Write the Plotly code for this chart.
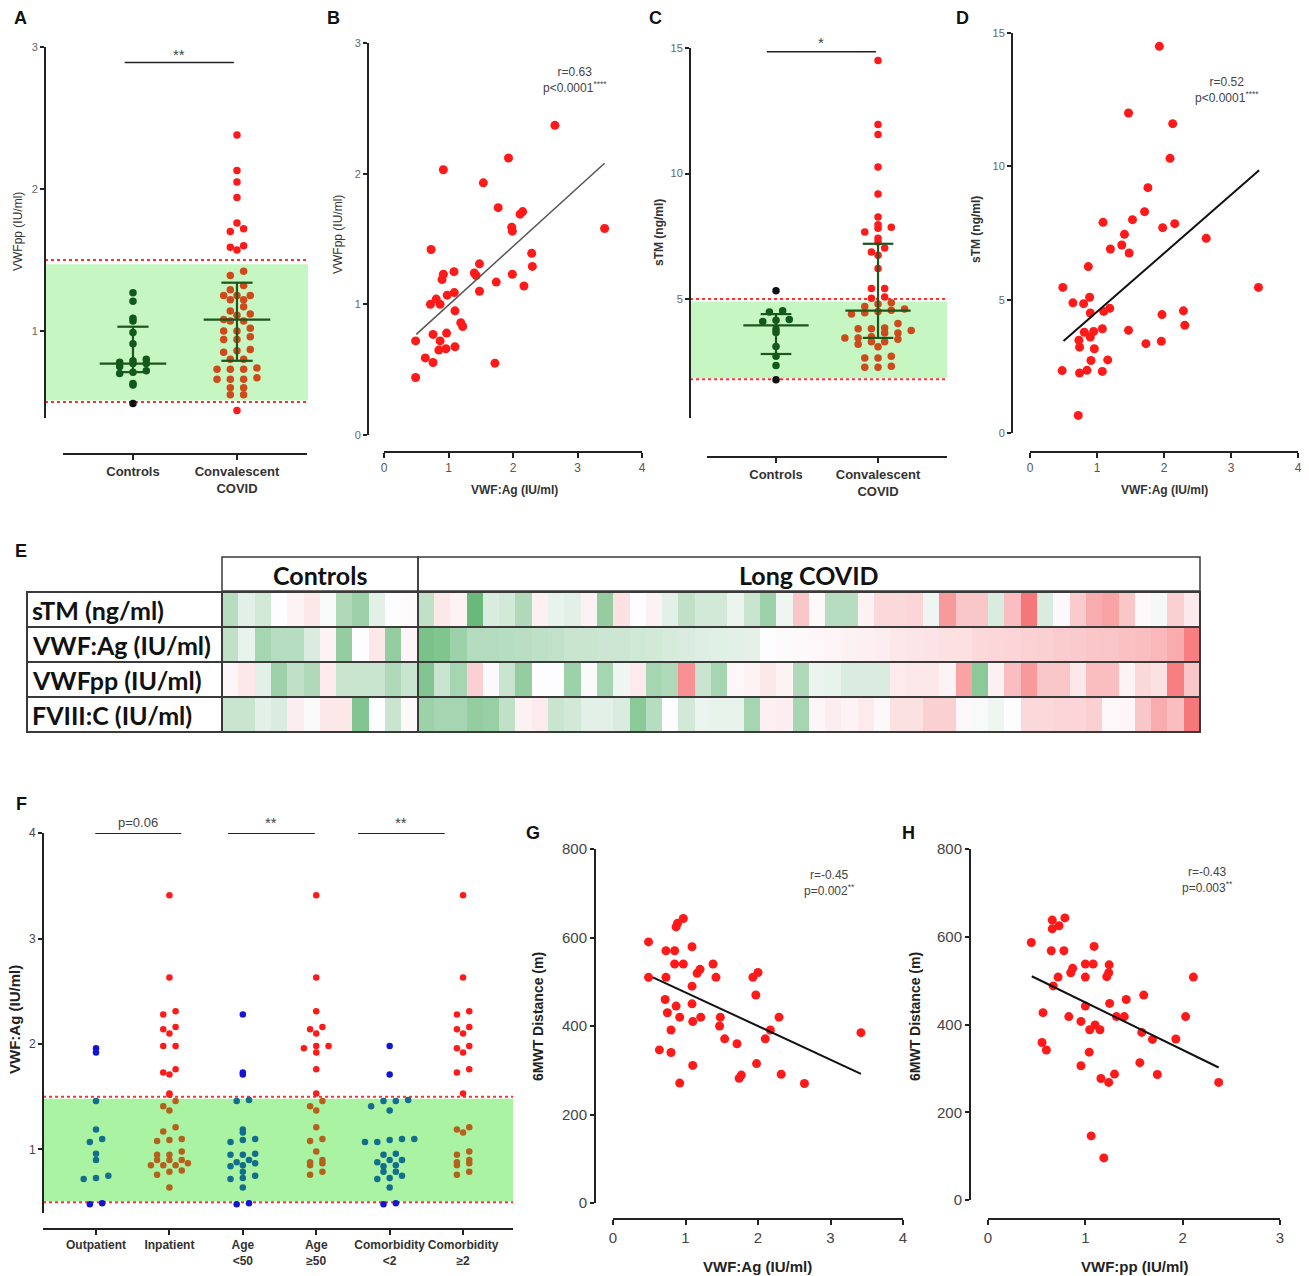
import numpy as np
import plotly.graph_objects as go

W, H = 1309, 1276
def fx(px): return px / W
def fy(py): return 1 - py / H

# ---------------- DATA ----------------
# Panel A: VWFpp (IU/ml)
A_controls = [1.27, 1.21, 1.07, 1.09, 0.99, 0.91, 0.79, 0.77, 0.80, 0.78, 0.77, 0.75, 0.71, 0.72, 0.70, 0.62, 0.63, 0.49]
A_conv = [2.38, 2.13, 2.05, 1.94, 1.76, 1.70, 1.72, 1.57, 1.60, 1.59,
          1.42, 1.39, 1.32, 1.29, 1.25, 1.25, 1.25, 1.22, 1.22, 1.17, 1.14, 1.12, 1.11, 1.08, 1.07, 1.07,
          1.02, 1.00, 1.00, 0.96, 0.94, 0.94, 0.87, 0.86, 0.85, 0.80, 0.80, 0.74, 0.73, 0.73, 0.73,
          0.67, 0.66, 0.66, 0.66, 0.60, 0.60, 0.55, 0.55, 0.44]
A_ctrl_stats = [0.71, 0.77, 1.03]   # Q1, median, Q3
A_conv_stats = [0.79, 1.08, 1.34]
A_normal = [0.5, 1.5]
A_categories = ["Controls", "Convalescent<br>COVID"]

# Panel B: VWF:Ag vs VWFpp
B_x = [0.49, 0.49, 0.64, 0.76, 0.76, 0.87, 0.85, 0.96, 0.97, 1.10, 0.73, 0.92, 0.92, 0.90, 1.085, 0.72, 0.81,
       0.87, 0.98, 1.09, 1.10, 1.19, 1.22, 1.40, 1.48, 1.43, 1.48, 1.54, 1.77, 1.74, 1.72, 1.93, 1.98, 1.99,
       1.99, 2.11, 2.15, 2.17, 2.29, 2.30, 2.65, 3.42]
B_y = [0.44, 0.72, 0.59, 0.555, 0.77, 0.72, 0.65, 0.66, 0.78, 0.675, 1.42, 2.03, 1.23, 1.19, 1.25, 1.00, 1.04,
       1.00, 1.07, 1.09, 0.95, 0.86, 0.83, 1.24, 1.31, 1.22, 1.10, 1.93, 1.74, 1.17, 0.55, 2.12, 1.59, 1.56,
       1.23, 1.69, 1.71, 1.14, 1.39, 1.29, 2.37, 1.58]
B_fit_x = [0.5, 3.42]
B_fit_y = [0.77, 2.08]

# Panel C: sTM (ng/ml)
C_controls = [5.33, 4.48, 4.53, 4.18, 4.10, 4.15, 3.67, 3.80, 3.11, 2.72, 2.35, 1.78]
C_conv = [14.5, 11.95, 11.55, 10.26, 9.18, 8.27, 7.82, 7.86, 7.96, 7.67, 7.42, 7.27, 6.74, 7.03, 6.87, 6.22,
          5.42, 5.42, 5.03, 5.08,
          4.85, 4.80, 4.70, 4.60, 4.55, 4.50, 4.45, 4.40, 4.02, 3.85, 3.82, 3.82, 3.75, 3.65, 3.65, 3.50,
          3.45, 3.45, 3.40, 3.30, 3.30, 3.20, 3.10, 2.72, 2.65, 2.65, 2.32, 2.28, 2.28]
C_ctrl_stats = [2.81, 3.95, 4.40]
C_conv_stats = [3.45, 4.54, 7.20]
C_normal = [1.8, 5.0]

# Panel D: VWF:Ag vs sTM
D_x = [1.93, 1.47, 2.13, 2.09, 1.76, 1.71, 1.53, 1.09, 1.98, 2.16, 2.63, 1.41, 1.37, 1.20, 1.48, 0.87, 0.49,
       3.41, 0.64, 0.80, 0.89, 0.90, 1.10, 1.19, 1.97, 2.29, 2.31, 1.47, 0.81, 0.90, 0.95, 1.08, 0.73, 0.74,
       0.96, 1.73, 1.96, 0.91, 1.16, 0.48, 0.74, 0.85, 1.08, 0.72]
D_y = [14.5, 12.0, 11.6, 10.3, 9.2, 8.3, 8.0, 7.9, 7.7, 7.85, 7.3, 7.45, 7.05, 6.9, 6.75, 6.24, 5.46,
       5.46, 4.88, 4.85, 5.09, 4.5, 4.56, 4.68, 4.44, 4.58, 4.04, 3.85, 3.78, 3.6, 3.81, 3.91, 3.48, 3.22,
       3.16, 3.35, 3.44, 2.72, 2.74, 2.34, 2.25, 2.35, 2.31, 0.66]
D_fit_x = [0.5, 3.42]
D_fit_y = [3.45, 9.85]

# Panel E: heatmap (diverging scores, -1 green .. +1 red)
E_rows = ["sTM (ng/ml)", "VWF:Ag (IU/ml)", "VWFpp (IU/ml)", "FVIII:C (IU/ml)"]
E_groups = ["Controls", "Long COVID"]
E_n_controls = 12
E_sTM = [-0.4, -0.15, -0.25, 0, 0.05, 0.12, -0.03, -0.45, -0.55, -0.15, 0, 0.01,
         -0.35, 0.12, 0.05, -0.85, -0.2, -0.25, -0.45, 0.07,
         -0.12, -0.15, 0.06, -0.6, 0.15, 0, 0.06, -0.15, -0.35, -0.25, -0.25, -0.1, -0.3, -0.55, -0.08, 0.3, 0.02, -0.4, -0.4, 0.06,
         0.2, 0.2, 0.22, -0.08, 0.55, 0.3, 0.3, -0.2, 0.35, 0.75, -0.2, 0.02, 0.28, 0.45, 0.5, 0.3, 0.02, -0.05, 0.25, 0.1]
E_VWFAg = [-0.35, -0.12, -0.5, -0.4, -0.4, -0.2, 0.05, -0.6, 0, 0.12, -0.6, 0.04,
           -0.75, -0.72, -0.55, -0.42, -0.42, -0.4, -0.38, -0.36,
           -0.34, -0.3, -0.3, -0.28, -0.28, -0.26, -0.25, -0.22, -0.2, -0.18, -0.16, -0.15, -0.14, 0.0, 0.01, 0.02, 0.03, 0.04, 0.06, 0.07,
           0.08, 0.12, 0.13, 0.14, 0.15, 0.16, 0.2, 0.21, 0.22, 0.24, 0.25, 0.27, 0.28, 0.3, 0.31, 0.33, 0.35, 0.38, 0.45, 0.7]
E_VWFpp = [0.04, 0.12, -0.15, -0.55, -0.35, -0.45, 0.1, -0.3, -0.3, -0.3, -0.45, -0.3,
           -0.7, -0.3, -0.5, 0.25, -0.02, -0.3, -0.6, 0.0,
           0.0, -0.55, -0.02, -0.5, -0.08, 0.1, -0.5, -0.45, 0.6, -0.3, -0.5, 0.03, 0.05, 0.12, 0.05, -0.45, -0.1, -0.12, -0.2, -0.2,
           -0.2, 0.1, 0.12, 0.12, 0.05, 0.5, -0.65, 0.07, 0.35, 0.55, 0.3, 0.3, 0.12, 0.35, 0.35, 0.05, 0.2, 0.15, 0.7, 0.3]
E_FVIII = [-0.3, -0.3, -0.15, -0.2, 0.08, -0.02, 0.12, 0.12, -0.7, 0, -0.3, 0.02,
           -0.55, -0.5, -0.5, -0.6, -0.58, -0.35, 0.06, 0.1,
           -0.3, -0.25, -0.15, -0.15, -0.2, -0.65, -0.4, 0, -0.25, -0.1, -0.12, -0.12, -0.5, 0.07, 0.08, -0.5, 0.04, 0.08, 0.05, 0.1,
           0.02, 0.15, 0.15, 0.25, 0.25, 0.02, -0.03, -0.08, 0.0, 0.2, 0.2, 0.22, 0.22, 0.25, 0.03, 0.04, 0.3, 0.45, 0.35, 0.75]

# Panel F: VWF:Ag by subgroup
F_categories = ["Outpatient", "Inpatient", "Age<br>&lt;50", "Age<br>≥50", "Comorbidity<br>&lt;2", "Comorbidity<br>≥2"]
F_out = [1.92, 1.96, 0.48, 0.49, 1.46, 1.19, 1.07, 1.10, 0.96, 0.90, 0.75, 0.72, 0.73]
F_inp = [3.41, 2.63, 2.28, 2.31, 2.16, 2.14, 2.10, 1.98, 1.98, 1.76, 1.71, 1.73, 1.53, 1.52,
         1.46, 1.37, 1.41, 1.17, 1.21, 1.08, 1.10, 1.09, 0.95, 0.95, 0.98, 0.87, 0.90, 0.90, 0.90,
         0.85, 0.85, 0.85, 0.80, 0.79, 0.76, 0.64]
F_age_lt = [2.28, 1.71, 1.73, 0.48, 0.49, 1.46, 1.47, 1.16, 1.19, 1.07, 1.10, 1.09, 0.95, 0.96, 0.95,
            0.88, 0.90, 0.87, 0.84, 0.85, 0.79, 0.72, 0.75, 0.73, 0.64]
F_age_ge = [3.41, 2.63, 2.31, 2.16, 2.14, 2.10, 1.92, 1.98, 1.96, 1.98, 1.76, 1.53, 1.46, 1.37, 1.41,
            1.21, 1.08, 1.10, 0.98, 0.90, 0.85, 0.87, 0.88, 0.76, 0.79]
F_com_lt = [1.98, 1.71, 0.48, 0.49, 1.46, 1.46, 1.47, 1.37, 1.41, 1.07, 1.10, 1.09, 1.10, 1.07, 0.95,
            0.96, 0.88, 0.90, 0.90, 0.84, 0.85, 0.79, 0.79, 0.72, 0.75, 0.73, 0.64]
F_com_ge = [3.41, 2.63, 2.28, 2.31, 2.16, 2.14, 2.10, 1.92, 1.98, 1.96, 1.73, 1.76, 1.53, 1.16, 1.21,
            1.19, 0.98, 0.95, 0.90, 0.85, 0.87, 0.88, 0.76, 0.79]
F_normal = [0.5, 1.5]
F_sig = ["p=0.06", "**", "**"]
F_sig_span = [(-0.01, 1.16), (1.80, 2.98), (3.57, 4.75)]

# Panel G: VWF:Ag vs 6MWT distance
G_x = [0.49, 0.49, 0.64, 0.73, 0.73, 0.72, 0.75, 0.80, 0.80, 0.85, 0.85, 0.87, 0.92, 0.87, 0.89, 0.97, 0.97,
       0.92, 1.09, 1.09, 1.09, 1.10, 1.10, 1.16, 1.20, 1.21, 1.38, 1.42, 1.48, 1.47, 1.54, 1.71, 1.74, 1.77,
       1.93, 2.00, 1.97, 1.98, 2.10, 2.17, 2.29, 2.32, 2.64, 3.42]
G_y = [590, 510, 346, 570, 510, 460, 430, 391, 340, 570, 540, 445, 420, 624, 632, 540, 643,
       271, 579, 490, 450, 410, 311, 519, 528, 420, 540, 510, 420, 400, 371, 360, 282, 289,
       510, 521, 470, 315, 371, 391, 420, 291, 270, 385]
G_fit_x = [0.55, 3.42]
G_fit_y = [510, 292]

# Panel H: VWF:pp vs 6MWT distance
H_x = [0.445, 0.565, 0.555, 0.60, 0.66, 0.66, 0.73, 0.79, 0.65, 0.78, 0.72, 0.67, 0.85, 0.87, 0.83, 1.00,
       1.08, 1.09, 1.00, 1.00, 0.955, 0.955, 1.04, 1.045, 1.10, 1.15, 1.06, 1.19, 1.16, 1.24, 1.30, 1.22,
       1.245, 1.24, 1.25, 1.32, 1.40, 1.42, 1.60, 1.58, 1.56, 1.69, 1.74, 1.93, 2.03, 2.11, 2.37]
H_y = [587, 427, 359, 342, 638, 618, 625, 643, 568, 568, 508, 488, 518, 528, 418, 538,
       538, 578, 508, 442, 407, 306, 337, 388, 399, 388, 146, 96, 277, 268, 287, 509,
       536, 518, 448, 418, 418, 457, 467, 382, 313, 366, 286, 367, 418, 508, 268]
H_fit_x = [0.45, 2.37]
H_fit_y = [510, 302]

# ---------------- STYLE ----------------
FONT = "Liberation Sans"
RED = "#ff1a1a"
ORANGE = "#cf4a1b"
DKGREEN = "#0e5a1b"
BLACK = "#111111"
BROWN = "#b5611c"
TEAL = "#126e8c"
BLUE = "#1414d6"
GREEN_BG = "#c6f6c1"
GREEN_BG_F = "#a9f3a3"
STAT = "#1c561c"


def swarm(vals, center, h, step):
    vals = np.asarray(vals, dtype=float)
    order = np.argsort(vals, kind="stable")
    bins = np.round(vals / h).astype(int)
    xs = np.zeros(len(vals))
    for b in np.unique(bins):
        idx = [i for i in order if bins[i] == b]
        n = len(idx)
        for k, i in enumerate(idx):
            xs[i] = center + (k - (n - 1) / 2) * step
    return xs


def classify(vals, lo, hi, inside, outside):
    return [inside if lo <= v <= hi else outside for v in vals]


fig = go.Figure()
shapes = []
annotations = []


def stat_trace(c, stats, xa, ya, wm=0.32, wq=0.15):
    q1, med, q3 = stats
    xs = [c - wm, c + wm, None, c - wq, c + wq, None, c - wq, c + wq, None, c, c]
    ys = [med, med, None, q1, q1, None, q3, q3, None, q1, q3]
    return go.Scatter(x=xs, y=ys, xaxis=xa, yaxis=ya, mode="lines",
                      line=dict(color=STAT, width=2.2), hoverinfo="skip")


def dots(x, y, colors, size, xa, ya):
    return go.Scatter(x=x, y=y, xaxis=xa, yaxis=ya, mode="markers",
                      marker=dict(color=colors, size=size, line=dict(width=0)), hoverinfo="skip")


def band(xref, yref, lo, hi, gfill, glo, ghi):
    shapes.append(dict(type="rect", xref=xref + " domain", yref=yref, x0=0, x1=1, y0=glo, y1=ghi,
                       fillcolor=gfill, line=dict(width=0), layer="below"))
    for v in (lo, hi):
        shapes.append(dict(type="line", xref=xref + " domain", yref=yref, x0=0, x1=1, y0=v, y1=v,
                           line=dict(color="#ff3030", width=2, dash="dot"), layer="below"))


def ptext(px, py, text, size=12, color="#333", angle=0, xanchor="center", bold=False, family=None):
    annotations.append(dict(xref="paper", yref="paper", x=fx(px), y=fy(py),
                            text=("<b>%s</b>" % text) if bold else text, textangle=angle,
                            xanchor=xanchor, yanchor="middle", showarrow=False,
                            font=dict(family=family or FONT, size=size, color=color)))


# ---- Panel A ----
xa, ya = "x", "y"
band("x", "y", A_normal[0], A_normal[1], GREEN_BG, 0.51, 1.47)
fig.add_trace(dots(swarm(A_controls, 0, 0.05, 0.128), A_controls,
                   classify(A_controls, *A_normal, DKGREEN, BLACK), 7.5, xa, ya))
fig.add_trace(dots(swarm(A_conv, 1, 0.05, 0.128), A_conv,
                   classify(A_conv, *A_normal, ORANGE, RED), 7.5, xa, ya))
fig.add_trace(stat_trace(0, A_ctrl_stats, xa, ya))
fig.add_trace(stat_trace(1, A_conv_stats, xa, ya))
shapes.append(dict(type="line", xref="x", yref="y", x0=-0.08, x1=0.97, y0=2.89, y1=2.89,
                   line=dict(color="#222", width=1.5)))
ptext(179, 54, "**", size=15, color="#444")

# ---- Panel B ----
fig.add_trace(dots(B_x, B_y, RED, 9, "x2", "y2"))
fig.add_trace(go.Scatter(x=B_fit_x, y=B_fit_y, xaxis="x2", yaxis="y2", mode="lines",
                         line=dict(color="#555", width=1.5), hoverinfo="skip"))

# ---- Panel C ----
band("x3", "y3", C_normal[0], C_normal[1], GREEN_BG, 1.85, 4.9)
fig.add_trace(dots(swarm(C_controls, 0, 0.3, 0.13), C_controls,
                   classify(C_controls, *C_normal, DKGREEN, BLACK), 7.5, "x3", "y3"))
fig.add_trace(dots(swarm(C_conv, 1, 0.3, 0.13), C_conv,
                   classify(C_conv, *C_normal, ORANGE, RED), 7.5, "x3", "y3"))
fig.add_trace(stat_trace(0, C_ctrl_stats, "x3", "y3"))
fig.add_trace(stat_trace(1, C_conv_stats, "x3", "y3"))
shapes.append(dict(type="line", xref="x3", yref="y3", x0=-0.09, x1=0.98, y0=14.85, y1=14.85,
                   line=dict(color="#222", width=1.5)))
ptext(821, 42, "*", size=15, color="#444")

# ---- Panel D ----
fig.add_trace(dots(D_x, D_y, RED, 9, "x4", "y4"))
fig.add_trace(go.Scatter(x=D_fit_x, y=D_fit_y, xaxis="x4", yaxis="y4", mode="lines",
                         line=dict(color="#111", width=2), hoverinfo="skip"))

# ---- Panel E ----
Z = [E_sTM, E_VWFAg, E_VWFpp, E_FVIII]
fig.add_trace(go.Heatmap(z=Z, x=list(range(len(E_sTM))), y=list(range(len(E_rows))), xaxis="x5", yaxis="y5",
                         zmin=-1, zmax=1, showscale=False, hoverinfo="skip",
                         colorscale=[[0, "#4fae63"], [0.5, "#fdfcfe"], [1, "#f44a4c"]]))

# ---- Panel F ----
band("x6", "y6", F_normal[0], F_normal[1], GREEN_BG_F, 0.51, 1.48)
F_groups = [F_out, F_inp, F_age_lt, F_age_ge, F_com_lt, F_com_ge]
for gi, vals in enumerate(F_groups):
    if gi % 2 == 0:
        cols = classify(vals, *F_normal, TEAL, BLUE)
    else:
        cols = classify(vals, *F_normal, BROWN, RED)
    fig.add_trace(dots(swarm(vals, gi, 0.06, 0.168), vals, cols, 6.5, "x6", "y6"))
for txt, (a, b) in zip(F_sig, F_sig_span):
    shapes.append(dict(type="line", xref="x6", yref="y6", x0=a, x1=b, y0=4.0, y1=4.0,
                       line=dict(color="#222", width=1.8)))
    cx = 96 + 73.4 * ((a + b) / 2)
    ptext(cx, 822, txt, size=13 if txt.startswith("p") else 15, color="#444")

# ---- Panel G ----
fig.add_trace(dots(G_x, G_y, RED, 9, "x7", "y7"))
fig.add_trace(go.Scatter(x=G_fit_x, y=G_fit_y, xaxis="x7", yaxis="y7", mode="lines",
                         line=dict(color="#111", width=2), hoverinfo="skip"))

# ---- Panel H ----
fig.add_trace(dots(H_x, H_y, RED, 9, "x8", "y8"))
fig.add_trace(go.Scatter(x=H_fit_x, y=H_fit_y, xaxis="x8", yaxis="y8", mode="lines",
                         line=dict(color="#111", width=2), hoverinfo="skip"))


# ---------------- AXES ----------------
def xaxis(d0, d1, rng, pos, showline=True, **kw):
    a = dict(domain=[fx(d0), fx(d1)], range=rng, anchor="free", position=fy(pos), automargin=False,
             showgrid=False, zeroline=False, showline=showline, linecolor="#222", linewidth=2,
             ticks="outside", ticklen=5, tickwidth=2, tickcolor="#222", tickangle=0,
             tickfont=dict(family=FONT, size=12, color="#555"))
    a.update(kw)
    return a


def yaxis(top, bot, rng, pos, **kw):
    a = dict(domain=[fy(bot), fy(top)], range=rng, anchor="free", position=fx(pos), automargin=False,
             showgrid=False, zeroline=False, showline=True, linecolor="#222", linewidth=2,
             ticks="outside", ticklen=4, tickwidth=2, tickcolor="#222",
             tickfont=dict(family=FONT, size=11, color="#666"))
    a.update(kw)
    return a


def bold_lines(c):
    return "<b>%s</b>" % c.replace("<br>", "</b><br><b>")


cat_font = dict(family=FONT, size=13, color="#333")
layout_axes = dict(
    xaxis=xaxis(45, 308, [-0.846, 1.683], 454, showline=False, tickvals=[0, 1],
                ticktext=[bold_lines(c) for c in A_categories], tickfont=cat_font),
    yaxis=yaxis(47, 418, [0.387, 3.0], 45, tickvals=[1, 2, 3]),
    xaxis2=xaxis(384, 642, [0, 4], 452, tickvals=[0, 1, 2, 3, 4]),
    yaxis2=yaxis(43, 435, [0, 3], 368, tickvals=[0, 1, 2, 3]),
    xaxis3=xaxis(690, 947, [-0.843, 1.676], 457, showline=False, tickvals=[0, 1],
                 ticktext=[bold_lines(c) for c in A_categories], tickfont=cat_font),
    yaxis3=yaxis(48, 418, [0.26, 15], 690, tickvals=[5, 10, 15]),
    xaxis4=xaxis(1030, 1298, [0, 4], 452, tickvals=[0, 1, 2, 3, 4]),
    yaxis4=yaxis(33, 433, [0, 15], 1012, tickvals=[0, 5, 10, 15]),
    xaxis5=dict(domain=[fx(222), fx(1200)], range=[-0.5, len(E_sTM) - 0.5], anchor="y5", visible=False,
                automargin=False),
    yaxis5=dict(domain=[fy(732), fy(592)], range=[3.5, -0.5], anchor="x5", visible=False, automargin=False),
    xaxis6=xaxis(43, 513, [-0.722, 5.68], 1229, tickvals=list(range(6)),
                 ticktext=[bold_lines(c) for c in F_categories],
                 tickfont=dict(family=FONT, size=12, color="#333")),
    yaxis6=yaxis(833, 1213, [0.398, 4.0], 43, tickvals=[1, 2, 3, 4],
                 tickfont=dict(family=FONT, size=12, color="#444")),
    xaxis7=xaxis(613, 903, [0, 4], 1219, tickvals=[0, 1, 2, 3, 4],
                 tickfont=dict(family=FONT, size=15, color="#444")),
    yaxis7=yaxis(849, 1203, [0, 800], 595, tickvals=[0, 200, 400, 600, 800],
                 tickfont=dict(family=FONT, size=15, color="#444")),
    xaxis8=xaxis(988, 1280, [0, 3], 1219, tickvals=[0, 1, 2, 3],
                 tickfont=dict(family=FONT, size=15, color="#444")),
    yaxis8=yaxis(849, 1200, [0, 800], 970, tickvals=[0, 200, 400, 600, 800],
                 tickfont=dict(family=FONT, size=15, color="#444")),
)

# detached category axis lines (A, C)
for x0, x1, yy in [(63, 307, 454), (707, 947, 457)]:
    shapes.append(dict(type="line", xref="paper", yref="paper", x0=fx(x0), x1=fx(x1), y0=fy(yy), y1=fy(yy),
                       line=dict(color="#222", width=2)))

# ---- Heatmap frame ----
EDGE = "#3a3a3a"
def prect(x0, y0, x1, y1, w=2):
    shapes.append(dict(type="rect", xref="paper", yref="paper", x0=fx(x0), x1=fx(x1), y0=fy(y1), y1=fy(y0),
                       line=dict(color=EDGE, width=w), fillcolor="rgba(0,0,0,0)"))
def pline(x0, y0, x1, y1, w=2):
    shapes.append(dict(type="line", xref="paper", yref="paper", x0=fx(x0), x1=fx(x1), y0=fy(y0), y1=fy(y1),
                       line=dict(color=EDGE, width=w)))

prect(222, 557, 418, 591, 1.5)
prect(418, 557, 1200, 591, 1.5)
prect(27, 592, 1200, 732, 2)
for yy in (627, 662, 697):
    pline(27, yy, 1200, yy, 2)
pline(222, 592, 222, 732, 2)
pline(418, 592, 418, 732, 2)

for i, lab in enumerate(E_rows):
    ptext(30, 610 + 35 * i, lab, size=25, color="#111", xanchor="left", bold=True, family="Lato")
for lab, cx in zip(E_groups, (320, 809)):
    ptext(cx, 575, lab, size=25, color="#111", bold=True, family="Lato")

# ---------------- TEXT ----------------
for lab, px, py in [("A", 20, 18), ("B", 333, 18), ("C", 655, 18), ("D", 962, 18), ("E", 21, 551),
                    ("F", 21, 804), ("G", 533, 833), ("H", 908, 833)]:
    ptext(px, py, lab, size=18, color="#111", bold=True)

ptext(18, 232, "VWFpp (IU/ml)", size=12, color="#333", angle=-90)
ptext(338, 235, "VWFpp (IU/ml)", size=12, color="#333", angle=-90)
ptext(514, 490, "VWF:Ag (IU/ml)", size=12, color="#333", bold=True)
ptext(659, 233, "sTM (ng/ml)", size=12, color="#333", angle=-90, bold=True)
ptext(976, 230, "sTM (ng/ml)", size=12, color="#333", angle=-90, bold=True)
ptext(1164, 490, "VWF:Ag (IU/ml)", size=12, color="#333", bold=True)
ptext(15, 1020, "VWF:Ag (IU/ml)", size=15, color="#222", angle=-90, bold=True)
ptext(538, 1017, "6MWT Distance (m)", size=14, color="#222", angle=-90, bold=True)
ptext(757, 1266, "VWF:Ag (IU/ml)", size=15, color="#222", bold=True)
ptext(915, 1017, "6MWT Distance (m)", size=14, color="#222", angle=-90, bold=True)
ptext(1134, 1266, "VWF:pp (IU/ml)", size=15, color="#222", bold=True)

for px, py, r, p in [(541, 80, "r=0.63", "p&lt;0.0001<sup>****</sup>"),
                     (1193, 90, "r=0.52", "p&lt;0.0001<sup>****</sup>"),
                     (802, 883, "r=-0.45", "p=0.002<sup>**</sup>"),
                     (1180, 880, "r=-0.43", "p=0.003<sup>**</sup>")]:
    ptext(px, py, r + "<br>" + p, size=12, color="#444", xanchor="left")

fig.update_layout(width=W, height=H, margin=dict(l=0, r=0, t=0, b=0, pad=0, autoexpand=False),
                  paper_bgcolor="white", plot_bgcolor="white", showlegend=False,
                  font=dict(family=FONT), shapes=shapes, annotations=annotations, **layout_axes)

fig.write_html("out.html", config={"displayModeBar": False},
               post_script=("document.documentElement.style.margin='0';document.body.style.margin='0';"
                            "document.body.style.padding='0';document.body.style.overflow='hidden';"
                            "var gd=document.getElementById('{plot_id}');gd.style.position='fixed';"
                            "gd.style.top='0px';gd.style.left='0px';"))
